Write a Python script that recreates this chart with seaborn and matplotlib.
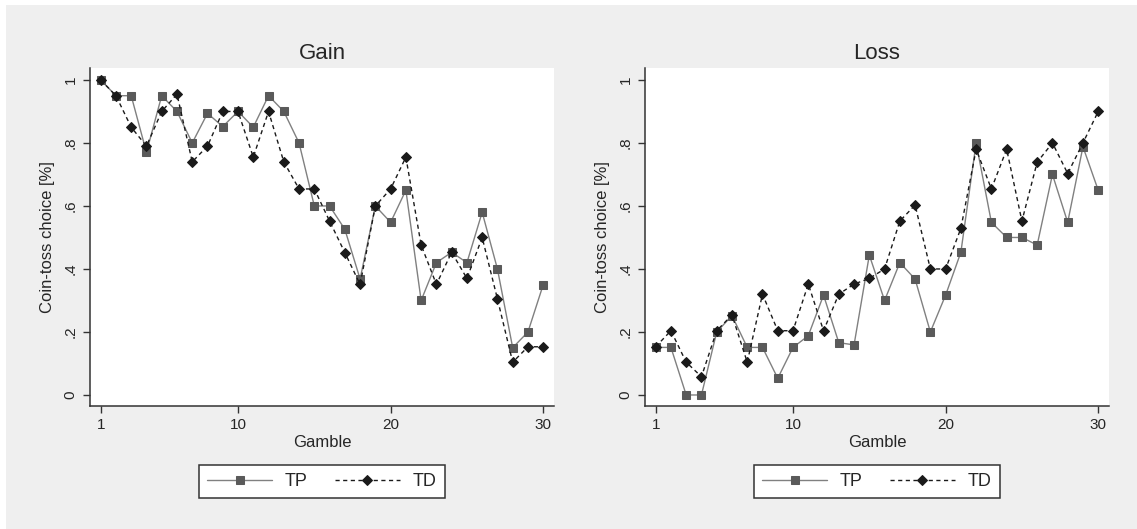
import numpy as np
import pandas as pd
import matplotlib
matplotlib.use('Agg')
import matplotlib.pyplot as plt
import seaborn as sns
from matplotlib.patches import Rectangle

# 데이터
gambles = list(range(1, 31))
gain_tp = [1.0, 0.95, 0.95, 0.77, 0.95, 0.90, 0.80, 0.894, 0.852, 0.90,
           0.85, 0.95, 0.90, 0.80, 0.60, 0.60, 0.526, 0.368, 0.60, 0.548,
           0.65, 0.30, 0.42, 0.453, 0.42, 0.58, 0.40, 0.15, 0.20, 0.35]
gain_td = [1.0, 0.95, 0.85, 0.79, 0.90, 0.955, 0.74, 0.79, 0.90, 0.90,
           0.755, 0.90, 0.74, 0.654, 0.654, 0.552, 0.452, 0.351, 0.60, 0.654,
           0.755, 0.476, 0.351, 0.453, 0.37, 0.50, 0.305, 0.104, 0.153, 0.153]
loss_tp = [0.151, 0.151, 0.0, 0.0, 0.20, 0.252, 0.151, 0.151, 0.053, 0.151,
           0.188, 0.317, 0.166, 0.159, 0.444, 0.30, 0.42, 0.368, 0.20, 0.317,
           0.453, 0.80, 0.548, 0.50, 0.50, 0.476, 0.70, 0.548, 0.788, 0.65]
loss_td = [0.153, 0.204, 0.104, 0.058, 0.204, 0.254, 0.104, 0.32, 0.204, 0.204,
           0.352, 0.204, 0.32, 0.352, 0.37, 0.40, 0.552, 0.603, 0.40, 0.40,
           0.529, 0.78, 0.654, 0.78, 0.552, 0.739, 0.80, 0.703, 0.80, 0.90]

panels = {'Gain': (gain_tp, gain_td), 'Loss': (loss_tp, loss_td)}
x_ticks = [1, 10, 20, 30]
y_ticks = [0, 0.2, 0.4, 0.6, 0.8, 1.0]
y_tick_labels = ['0', '.2', '.4', '.6', '.8', '1']

sns.set_style('white')
plt.rcParams['font.family'] = ['Liberation Sans', 'DejaVu Sans']

bg = '#efefef'
fig = plt.figure(figsize=(11.37, 5.29), dpi=100, facecolor='white')
fig.patches.append(Rectangle((6 / 1137, 0), 1, 1 - 5 / 529, transform=fig.transFigure,
                             facecolor=bg, edgecolor='none', zorder=-10))

lefts = [90 / 1137, 645 / 1137]
for left, (title, (tp, td)) in zip(lefts, panels.items()):
    ax = fig.add_axes([left, 0.2331, 0.408, 0.6378])
    df = pd.DataFrame({'Gamble': gambles, 'TP': tp, 'TD': td})
    sns.lineplot(data=df, x='Gamble', y='TP', ax=ax, color='#808080', lw=1.0,
                 marker='s', markersize=6, markerfacecolor='#5a5a5a',
                 markeredgecolor='#5a5a5a', label='TP')
    sns.lineplot(data=df, x='Gamble', y='TD', ax=ax, color='#1a1a1a', lw=1.0,
                 linestyle=(0, (3, 2.5)), marker='D', markersize=5,
                 markerfacecolor='#1a1a1a', markeredgecolor='#1a1a1a', label='TD')
    ax.set_xlim(0.3, 30.7)
    ax.set_ylim(-0.034, 1.037)
    ax.set_xticks(x_ticks)
    ax.set_yticks(y_ticks)
    ax.set_yticklabels(y_tick_labels, rotation=90, va='center')
    ax.tick_params(axis='both', direction='out', length=5, width=1, color='#333333',
                   labelsize=11, pad=4, left=True, bottom=True)
    for s in ['top', 'right']:
        ax.spines[s].set_visible(False)
    for s in ['left', 'bottom']:
        ax.spines[s].set_color('#333333')
        ax.spines[s].set_linewidth(1.1)
    ax.set_facecolor('white')
    ax.set_title(title, fontsize=16, pad=7)
    ax.set_xlabel('Gamble', fontsize=12, labelpad=2)
    ax.set_ylabel('Coin-toss choice [%]', fontsize=12, labelpad=6)
    leg = ax.legend(loc='center', bbox_to_anchor=(0.5, -0.225), ncol=2, fontsize=13,
                    handlelength=3.6, columnspacing=1.5, handletextpad=0.7,
                    numpoints=1, fancybox=False, framealpha=1, borderpad=0.45)
    leg.get_frame().set_edgecolor('#333333')
    leg.get_frame().set_linewidth(1.1)

plt.savefig('out.png', dpi=100, facecolor=fig.get_facecolor())
